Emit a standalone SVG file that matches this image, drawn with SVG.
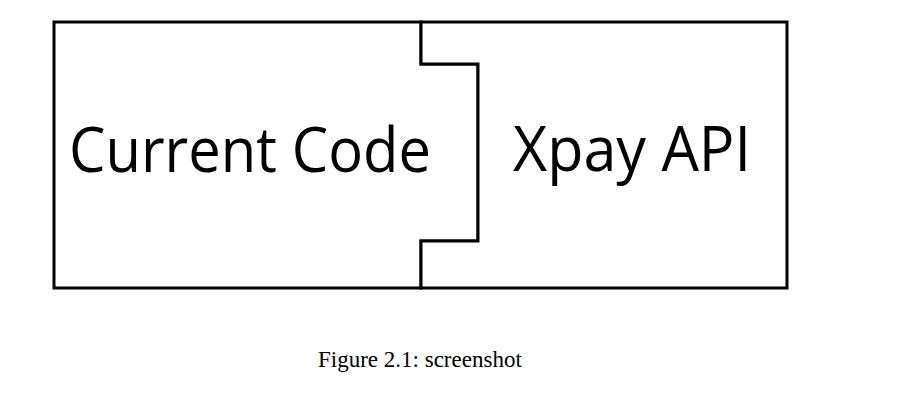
<svg xmlns="http://www.w3.org/2000/svg" width="924" height="401" viewBox="0 0 924 401">
<style>
.box{fill:#fff;stroke:#000;stroke-width:3;stroke-linejoin:miter}
.lbl{font-family:"Open Sans","Noto Sans",sans-serif;font-size:62px;fill:#000}
.cap{font-family:"Liberation Serif","Times New Roman",serif;font-size:23px;fill:#000}
</style>
<rect width="924" height="401" fill="#fff"/>
<g id="current-code">
<path class="box" d="M54,22 H421 V64 H478 V241 H421 V288 H54 Z"/>
<text class="lbl" x="69" y="172" textLength="362" lengthAdjust="spacingAndGlyphs">Current Code</text>
</g>
<g id="xpay-api">
<path class="box" d="M421,22 H787 V288 H421 V241 H478 V64 H421 Z"/>
<text class="lbl" x="513" y="171" textLength="238" lengthAdjust="spacingAndGlyphs">Xpay API</text>
</g>
<g id="connectors"></g>
<text class="cap" x="318" y="367">Figure 2.1: screenshot</text>
</svg>
